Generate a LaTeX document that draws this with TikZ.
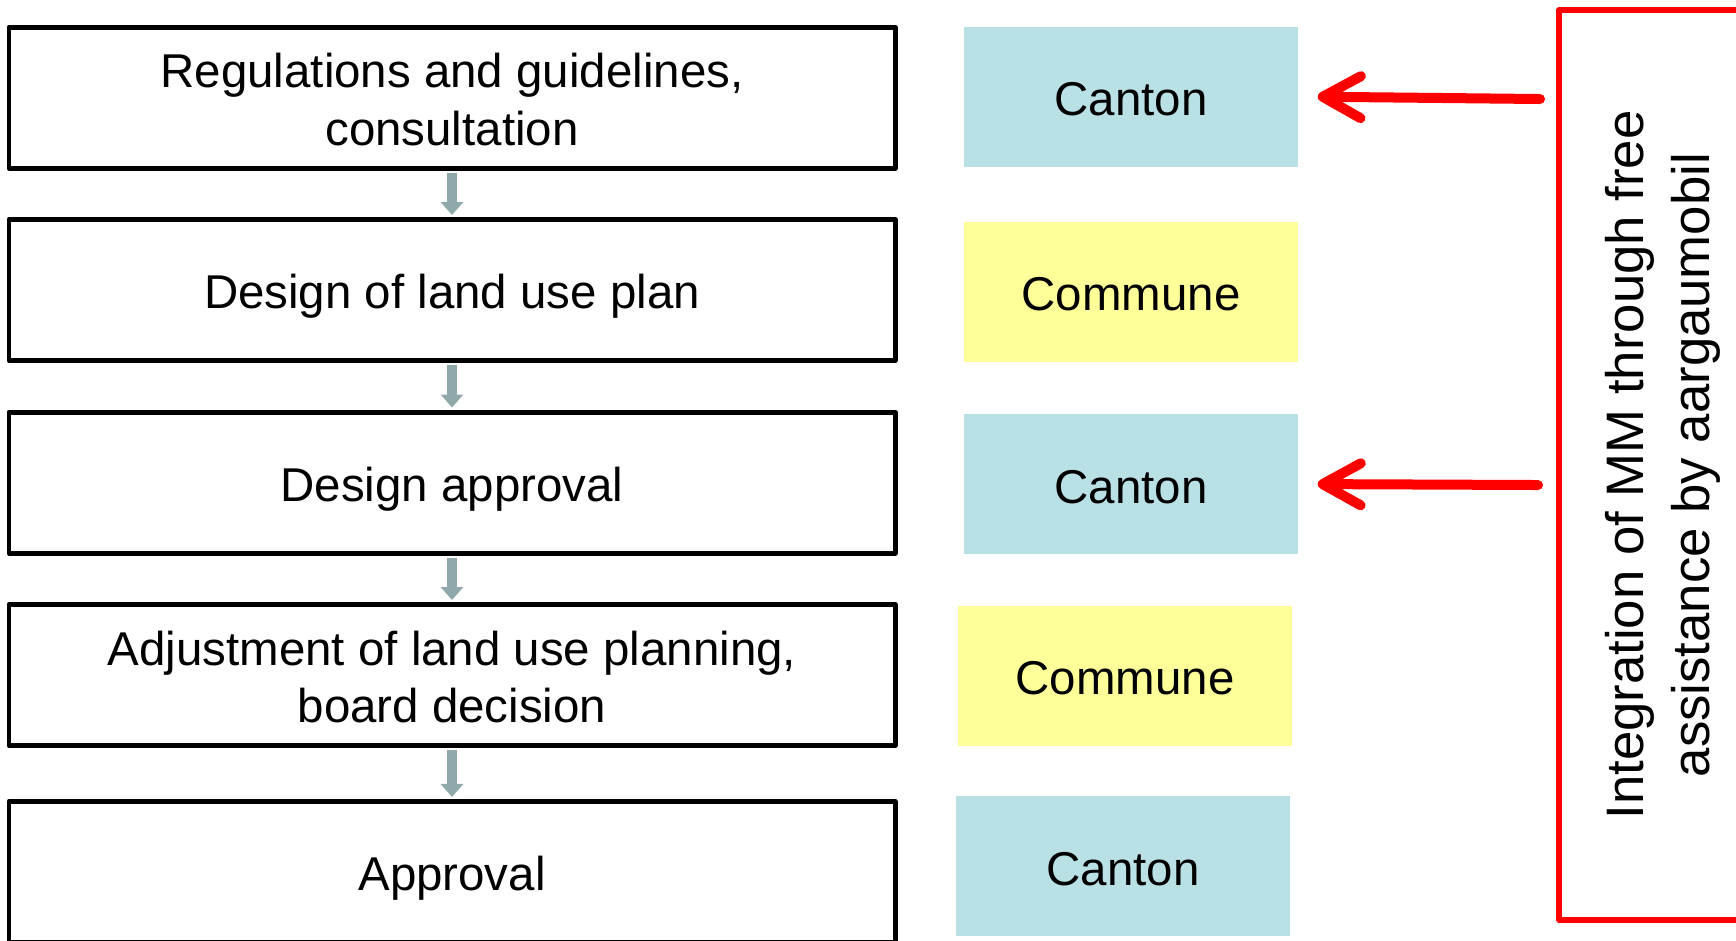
\documentclass[tikz,border=0pt]{standalone}
\usepackage{fontspec}
\setmainfont{Liberation Sans}
\usetikzlibrary{positioning,arrows.meta}
\definecolor{cantonblue}{RGB}{185,224,228}
\definecolor{communeyellow}{RGB}{255,255,153}
\definecolor{flowgray}{RGB}{143,169,170}

\begin{document}
\begin{tikzpicture}[line join=round,
    stage/.style={draw, line width=1.42pt, minimum width=8.86cm, minimum height=1.41cm, align=center, text height=10.8pt, text depth=0pt, font=\fontsize{13.5}{16.4}\selectfont},
    twoline/.style={stage, text height=27.3pt},
    canton/.style={fill=cantonblue, minimum width=3.34cm, minimum height=1.40cm, text height=10.9pt, text depth=0pt, font=\fontsize{13.5}{16.4}\selectfont},
    commune/.style={canton, fill=communeyellow},
    flow/.style={draw=flowgray, line width=0.1cm, -{Triangle[width=0.22cm,length=0.13cm]}, shorten <=0.02cm, shorten >=0.02cm},
    hint/.style={draw=red, line width=0.1cm, line cap=round, -{Straight Barb[length=0.38cm,width=0.42cm,round]}, shorten >=0.19cm}]
\useasboundingbox (0,0) rectangle (17.36,-9.40);
% stages of the procedure
\node[twoline] (r1) at (4.52,-0.975) {Regulations and guidelines,\\consultation};
\node[stage, below=0.465cm of r1] (r2) {Design of land use plan};
\node[stage, below=0.465cm of r2] (r3) {Design approval};
\node[twoline, below=0.465cm of r3] (r4) {Adjustment of land use planning,\\board decision};
\node[stage, below=0.51cm of r4] (r5) {Approval};
\foreach \i/\j in {r1/r2,r2/r3,r3/r4,r4/r5}
    \draw[flow] (\i) -- (\j);
% who is in charge
\node[canton] (c1) at (11.31,-0.965) {Canton};
\node[commune] (c2) at (11.31,-2.915) {Commune};
\node[canton] (c3) at (11.31,-4.84) {Canton};
\node[commune] (c4) at (11.25,-6.755) {Commune};
\node[canton] (c5) at (11.23,-8.66) {Canton};
% aargaumobil
\node[draw=red, line width=1.5pt, rotate=90, minimum width=9.10cm, minimum height=2.08cm, align=center, font=\fontsize{15}{18.8}\selectfont] (mm) at (16.63,-4.65) {Integration of MM through free\\assistance by aargaumobil};
\coordinate (h1) at (15.40,-0.99);
\coordinate (h3) at (15.38,-4.85);
\draw[hint] (h1) -- (c1.east);
\draw[hint] (h3) -- (c3.east);
\end{tikzpicture}
\end{document}
